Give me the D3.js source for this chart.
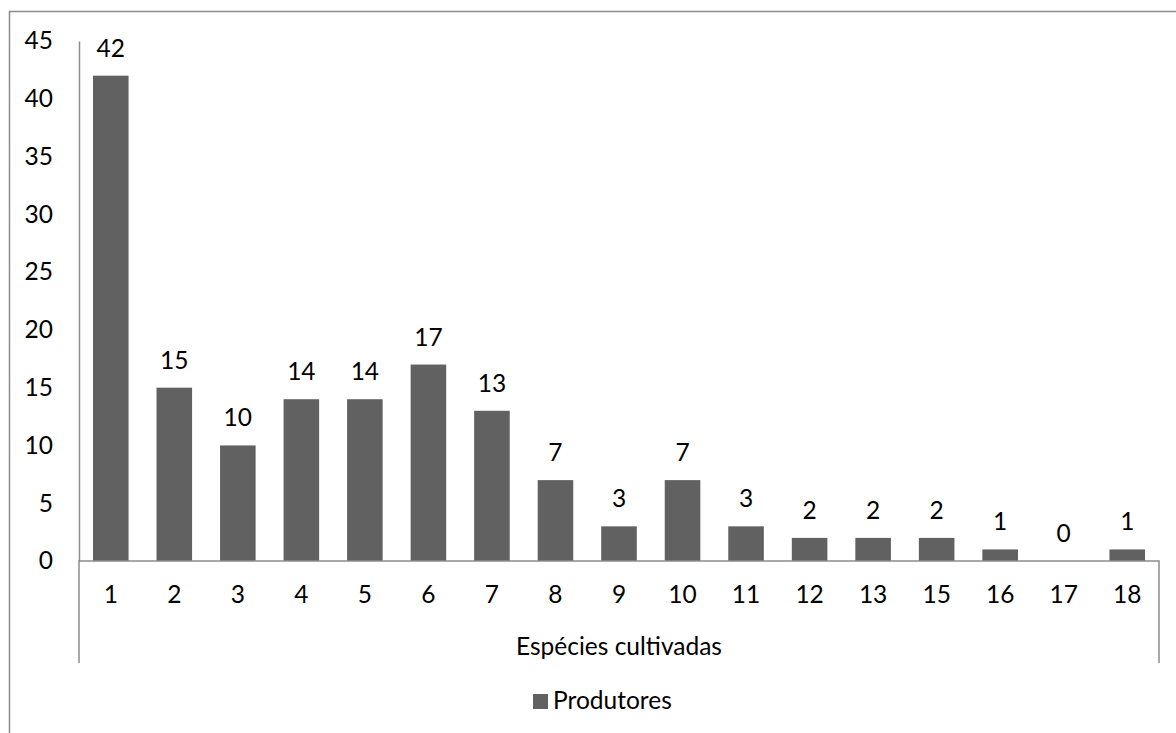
<!DOCTYPE html>
<html>
<head>
<meta charset="utf-8">
<script src="https://cdn.jsdelivr.net/npm/d3@7"></script>
<style>
  html, body { margin: 0; padding: 0; background: #fff; }
  svg { display: block; }
  text { font-family: Lato, "Open Sans", sans-serif; fill: #000; }
</style>
</head>
<body>
<svg id="chart" width="1176" height="733"></svg>
<script>
// Number of cultivated species per producer
const categories = ["1", "2", "3", "4", "5", "6", "7", "8", "9", "10", "11", "12", "13", "15", "16", "17", "18"];
const produtores = [42, 15, 10, 14, 14, 17, 13, 7, 3, 7, 3, 2, 2, 2, 1, 0, 1];
const yTicks = [0, 5, 10, 15, 20, 25, 30, 35, 40, 45];
const seriesName = "Produtores";
const axisTitle = "Espécies cultivadas";

const svg = d3.select("#chart");
const fontSize = 24.5;
const barColor = "#616161";
const lineColor = "#8c8c8c";

// Chart area frame
svg.append("rect")
  .attr("x", 9.5).attr("y", 11.5)
  .attr("width", 1200).attr("height", 800)
  .attr("fill", "none")
  .attr("stroke", lineColor)
  .attr("stroke-width", 1.5);

const plot = { left: 79, right: 1159, top: 41, bottom: 561 };

const x = d3.scaleBand()
  .domain(categories)
  .range([plot.left, plot.right])
  .paddingInner(0.44)
  .paddingOuter(0.22);

const y = d3.scaleLinear()
  .domain([0, 45])
  .range([plot.bottom, plot.top]);

// Y axis
const yAxis = svg.append("g")
  .attr("transform", `translate(${plot.left},0)`)
  .call(d3.axisLeft(y).tickValues(yTicks).tickSize(0).tickPadding(26));
yAxis.select(".domain").attr("stroke", lineColor).attr("stroke-width", 1.5);
yAxis.selectAll("text")
  .style("font-size", fontSize + "px")
  .style("font-family", "Lato, 'Open Sans', sans-serif")
  .attr("fill", "#000");

// Bars
svg.append("g").selectAll("rect")
  .data(produtores)
  .join("rect")
  .attr("x", (d, i) => x(categories[i]))
  .attr("y", d => y(d))
  .attr("width", x.bandwidth())
  .attr("height", d => y(0) - y(d))
  .attr("fill", barColor);

// Value labels
svg.append("g").selectAll("text")
  .data(produtores)
  .join("text")
  .attr("x", (d, i) => x(categories[i]) + x.bandwidth() / 2)
  .attr("y", d => y(d) - 19)
  .attr("text-anchor", "middle")
  .style("font-size", fontSize + "px")
  .text(d => d);

// X axis with grouped category bracket
const xAxis = svg.append("g")
  .attr("transform", `translate(0,${plot.bottom})`)
  .call(d3.axisBottom(x).tickSize(0).tickPadding(25));
xAxis.select(".domain").remove();
xAxis.selectAll("text")
  .style("font-size", fontSize + "px")
  .style("font-family", "Lato, 'Open Sans', sans-serif")
  .attr("fill", "#000");

const bracketBottom = 663;
svg.append("path")
  .attr("d", `M${plot.left},${bracketBottom}V${plot.bottom}H${plot.right}V${bracketBottom}`)
  .attr("fill", "none")
  .attr("stroke", lineColor)
  .attr("stroke-width", 1.5);

svg.append("text")
  .attr("x", (plot.left + plot.right) / 2)
  .attr("y", 655)
  .attr("text-anchor", "middle")
  .style("font-size", fontSize + "px")
  .text(axisTitle);

// Legend
const legend = svg.append("g").attr("transform", "translate(533,694)");
legend.append("rect")
  .attr("width", 15).attr("height", 15)
  .attr("fill", barColor);
legend.append("text")
  .attr("x", 20).attr("y", 14.5)
  .style("font-size", fontSize + "px")
  .text(seriesName);
</script>
</body>
</html>
